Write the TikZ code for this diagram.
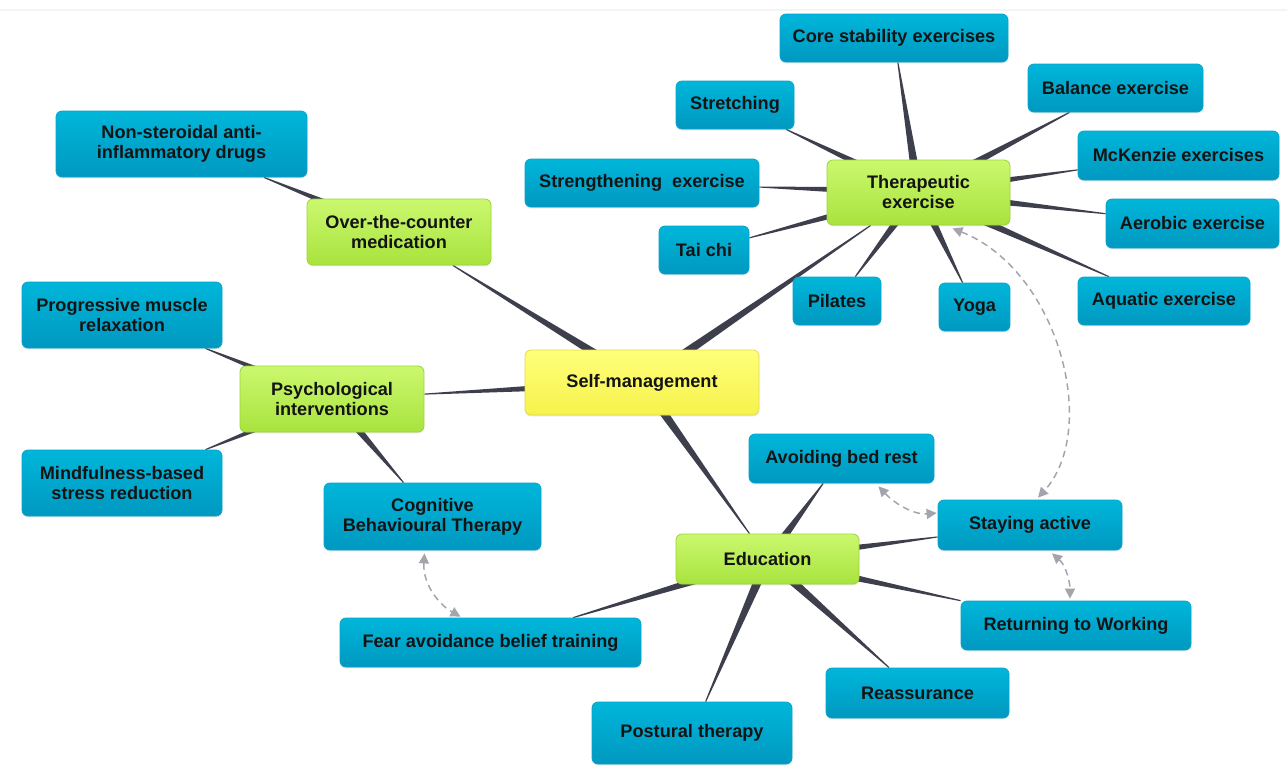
\documentclass[tikz,border=0pt]{standalone}
\usepackage{fontspec}
\setmainfont{Liberation Sans}
\usetikzlibrary{calc,backgrounds,arrows.meta,shadows}
\definecolor{bluetop}{HTML}{00B6DA}
\definecolor{bluebot}{HTML}{0098C0}
\definecolor{bluebd}{HTML}{0AA4CA}
\definecolor{greentop}{HTML}{CBF86E}
\definecolor{greenbot}{HTML}{A8E33E}
\definecolor{greenbd}{HTML}{9CD43A}
\definecolor{yeltop}{HTML}{FFFF7A}
\definecolor{yelbot}{HTML}{F6F24C}
\definecolor{yelbd}{HTML}{E2DB4C}
\definecolor{connc}{HTML}{3E3F4C}
\definecolor{arrgray}{HTML}{A3A4AC}
\definecolor{txt}{HTML}{141414}
\definecolor{topline}{HTML}{F4F4F4}
\tikzset{
  box/.style={rectangle, rounded corners=4.5pt, align=center, inner sep=0pt,
    line width=0.6pt, text=txt,
    font=\fontsize{13.6pt}{15pt}\selectfont\bfseries,
    drop shadow={shadow xshift=0pt, shadow yshift=-1pt, opacity=0.18}},
  sz/.style 2 args={minimum width=#1*0.75pt, minimum height=#2*0.75pt},
  bbox/.style={box, draw=bluebd, top color=bluetop, bottom color=bluebot},
  gbox/.style={box, draw=greenbd, top color=greentop, bottom color=greenbot},
  ybox/.style={box, draw=yelbd, top color=yeltop, bottom color=yelbot},
  darrow/.style={draw=arrgray, line width=1.1pt, dash pattern=on 5pt off 3.5pt,
    {Triangle[length=7.5pt,width=7.5pt]}-{Triangle[length=7.5pt,width=7.5pt]}},
  conn/.style={fill=connc}
}
\newcommand{\taper}[2]{%
  \path (#1) -- (#2) coordinate[pos=1] (tq);
  \fill[conn] ($(#1)!3.7pt!90:(tq)$) -- ($(tq)!0.4pt!-90:(#1)$)
     -- ($(tq)!0.4pt!90:(#1)$) -- ($(#1)!3.7pt!-90:(tq)$) -- cycle;}
\begin{document}
\begin{tikzpicture}[x=0.75pt,y=-0.75pt]
\useasboundingbox (0,0) rectangle (1287,765);
% nodes
\node[bbox, sz={228}{48}] (core) at (894,38) {Core stability exercises};
\node[bbox, sz={118}{48}] (stretch) at (735,105) {Stretching};
\node[bbox, sz={175}{48}] (balance) at (1115.5,88) {Balance exercise};
\node[bbox, sz={201}{49}] (mck) at (1178.5,155.5) {McKenzie exercises};
\node[bbox, sz={234}{48}] (strength) at (642,183) {Strengthening\ \ exercise};
\node[gbox, sz={183}{65}] (ther) at (918.5,192.5) {Therapeutic\\exercise};
\node[bbox, sz={173}{49}] (aero) at (1192.5,223.5) {Aerobic exercise};
\node[bbox, sz={90}{48}] (taichi) at (704,250) {Tai chi};
\node[bbox, sz={88}{48}] (pilates) at (837,301) {Pilates};
\node[bbox, sz={71}{48}] (yoga) at (974.5,307) {Yoga};
\node[bbox, sz={172}{48}] (aquatic) at (1164,301) {Aquatic exercise};
\node[bbox, sz={251}{66}] (nsaid) at (181.5,144) {Non-steroidal anti-\\inflammatory drugs};
\node[gbox, sz={184}{66}] (otc) at (399,232) {Over-the-counter\\medication};
\node[bbox, sz={200}{66}] (pmr) at (122,315) {Progressive muscle\\relaxation};
\node[gbox, sz={184}{66}] (psych) at (332,399) {Psychological\\interventions};
\node[bbox, sz={200}{66}] (mind) at (122,483) {Mindfulness-based\\stress reduction};
\node[ybox, sz={234}{65}] (self) at (642,382.5) {Self-management};
\node[bbox, sz={217}{67}] (cbt) at (432.5,516.5) {Cognitive\\Behavioural Therapy};
\node[bbox, sz={185}{49}] (bed) at (841.5,458.5) {Avoiding bed rest};
\node[bbox, sz={184}{50}] (stay) at (1030,525) {Staying active};
\node[gbox, sz={183}{50}] (edu) at (767.5,559) {Education};
\node[bbox, sz={301}{49}] (fear) at (490.5,642.5) {Fear avoidance belief training};
\node[bbox, sz={230}{49}] (ret) at (1076,625.5) {Returning to Working};
\node[bbox, sz={183}{50}] (reass) at (917.5,693) {Reassurance};
\node[bbox, sz={200}{62}] (postural) at (692,733) {Postural therapy};
% connectors
\begin{pgfonlayer}{background}
\fill[white] (0,0) rectangle (1287,765);
\draw[topline, line width=0.8pt] (0,10) -- (1287,10);
\taper{self}{otc}
\taper{self}{psych}
\taper{self}{ther}
\taper{self}{edu}
\taper{otc}{nsaid}
\taper{psych}{pmr}
\taper{psych}{mind}
\taper{psych}{cbt}
\taper{ther}{core}
\taper{ther}{stretch}
\taper{ther}{balance}
\taper{ther}{mck}
\taper{ther}{strength}
\taper{ther}{aero}
\taper{ther}{taichi}
\taper{ther}{pilates}
\taper{ther}{yoga}
\taper{ther}{aquatic}
\taper{edu}{bed}
\taper{edu}{stay}
\taper{edu}{fear}
\taper{edu}{ret}
\taper{edu}{reass}
\taper{edu}{postural}
\end{pgfonlayer}
% dashed relations
\draw[darrow] ($(ther.south)+(34,3)$) .. controls ($(ther.south)+(140,45)$) and ($(stay.north)+(70,-70)$) .. ($(stay.north)+(8,-2)$);
\draw[darrow] ($(bed.south)+(37,3)$) .. controls ($(bed.south)+(55,22)$) and ($(stay.west)+(-22,-10)$) .. ($(stay.west)+(-1,-12)$);
\draw[darrow] ($(stay.south)+(22,3)$) .. controls ($(stay.south)+(36,15)$) and ($(ret.north)+(-6,-18)$) .. ($(ret.north)+(-6,-2)$);
\draw[darrow] ($(cbt.south)+(-8,3)$) .. controls ($(cbt.south)+(-10,35)$) and ($(fear.north)+(-50,-12)$) .. ($(fear.north)+(-30,-1)$);
\end{tikzpicture}
\end{document}
